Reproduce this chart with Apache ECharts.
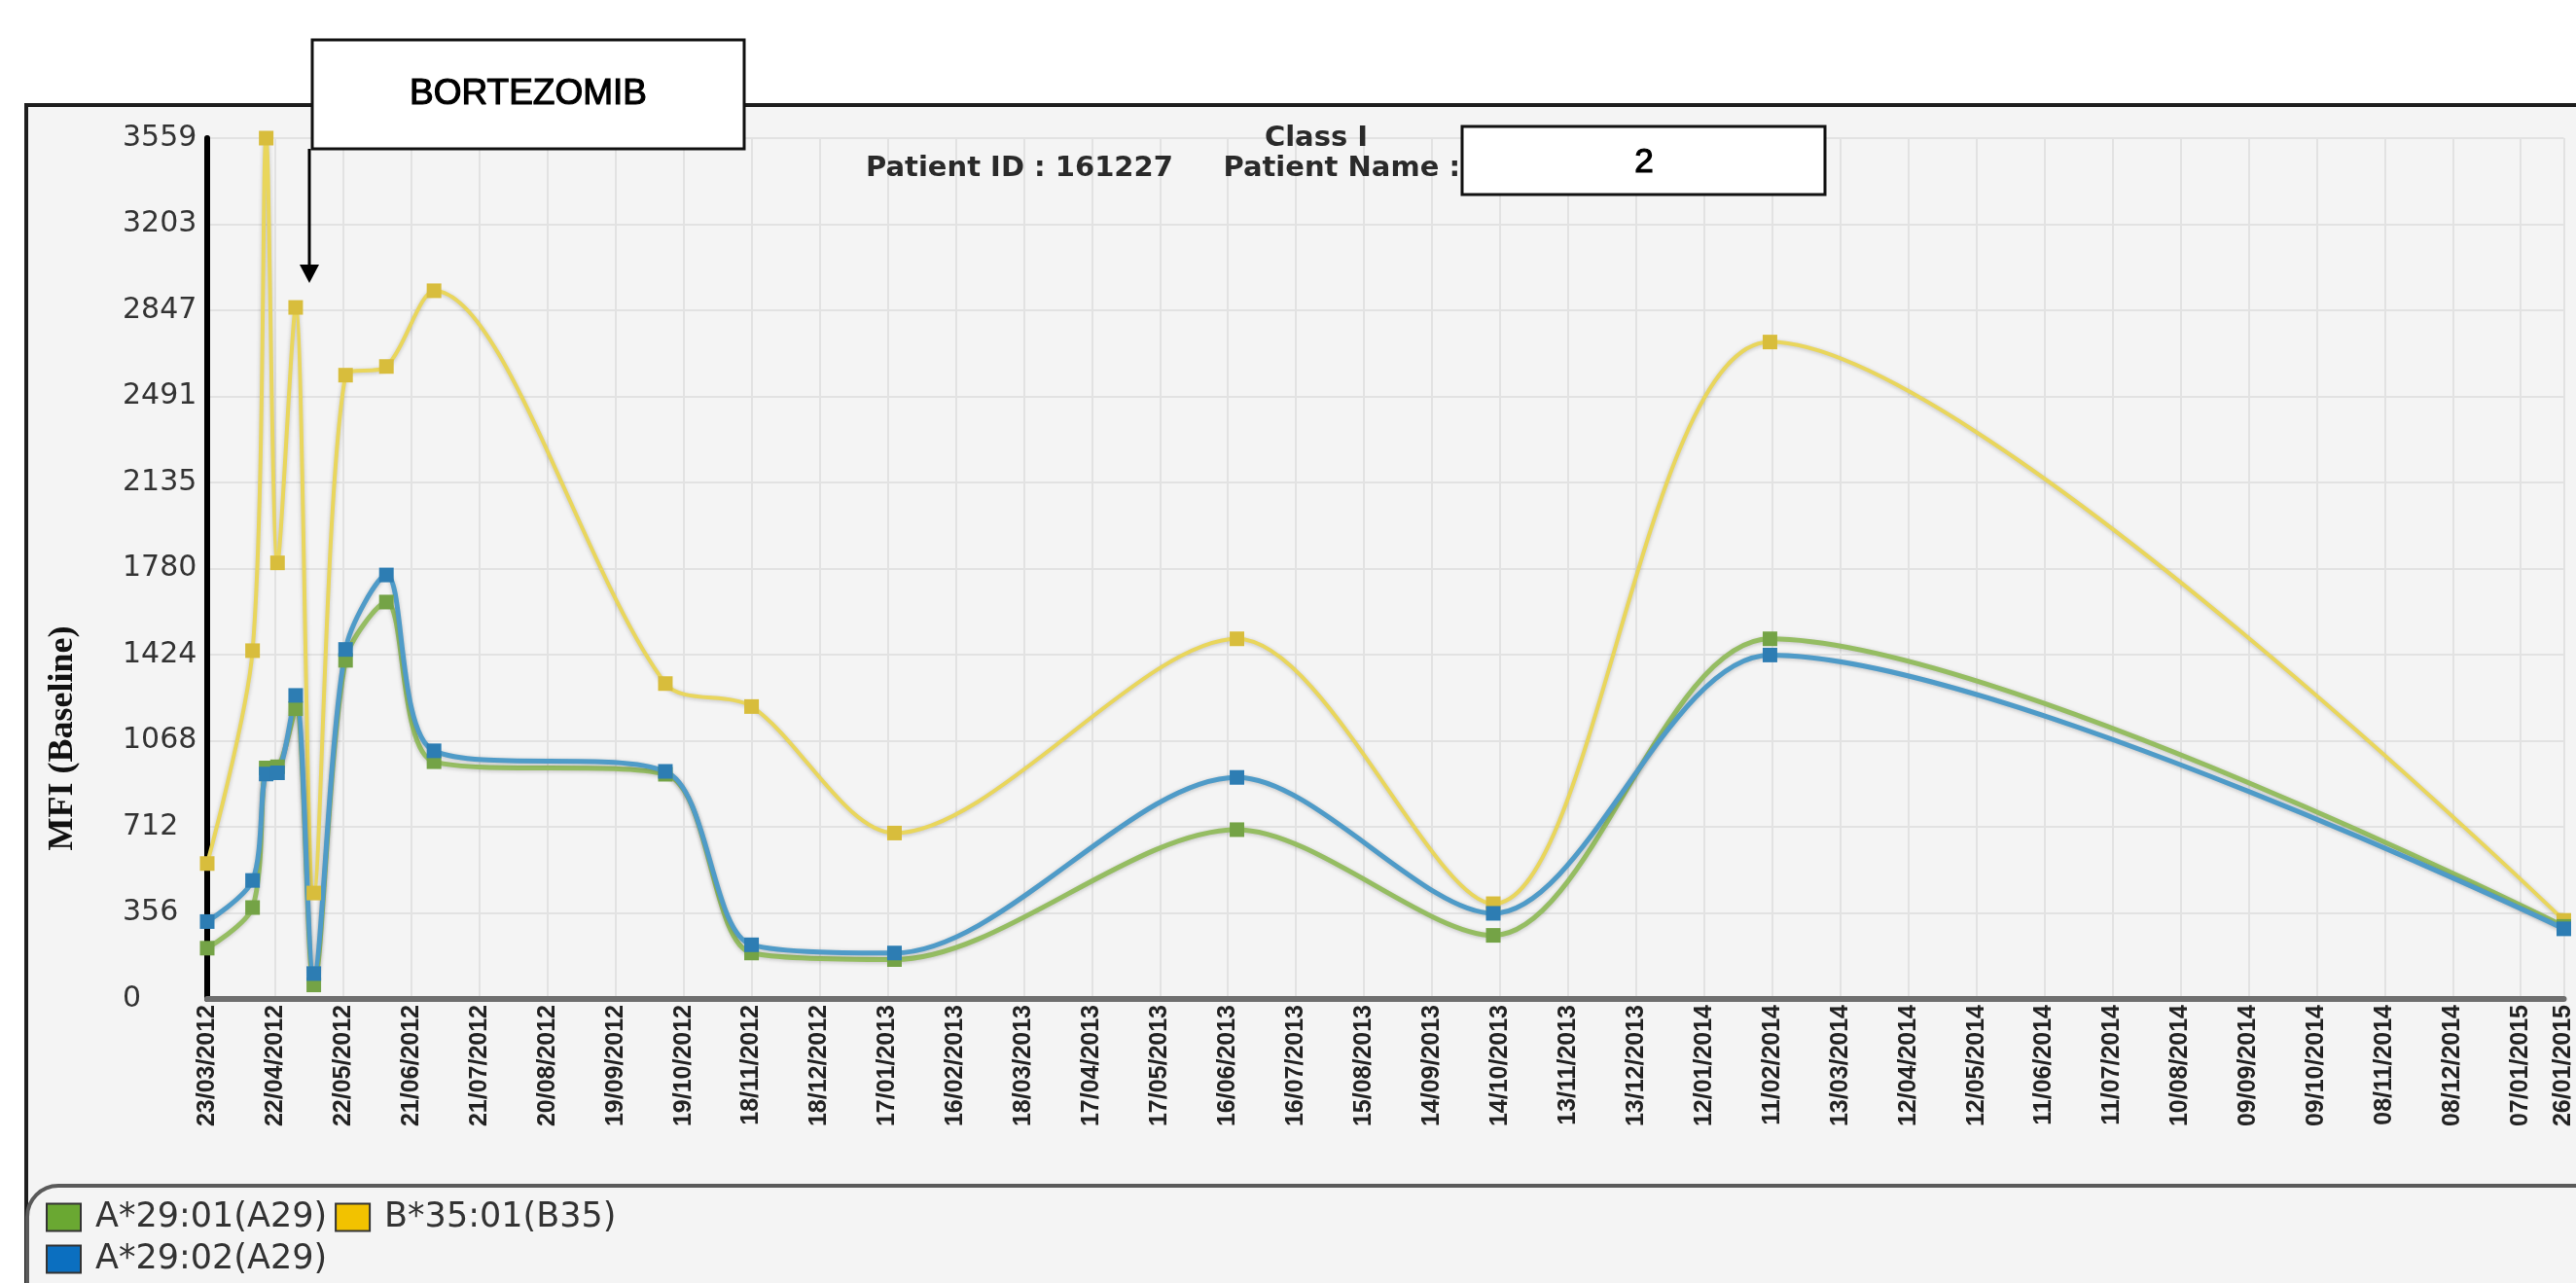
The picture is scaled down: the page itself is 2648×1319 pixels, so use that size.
<!DOCTYPE html>
<html>
<head>
<meta charset="utf-8">
<title>MFI (Baseline) – Class I</title>
<script src="https://cdn.jsdelivr.net/npm/echarts@6/dist/echarts.min.js"></script>
<style>
  html, body { margin: 0; padding: 0; background: #ffffff; }
  #chart { width: 2648px; height: 1319px; }
</style>
</head>
<body>
<div id="chart"></div>
<script>
// Sample dates (dd/mm/yyyy) shared by all three antibody series
const sampleDates = [
  '23/03/2012', '12/04/2012', '18/04/2012', '23/04/2012', '01/05/2012', '09/05/2012',
  '23/05/2012', '10/06/2012', '01/07/2012', '11/10/2012', '18/11/2012', '20/01/2013',
  '20/06/2013', '11/10/2013', '10/02/2014', '26/01/2015'
];

// MFI values per antigen
const a2901 = [210, 378, 955, 960, 1200, 58, 1400, 1641, 981, 929, 190, 163, 700, 263, 1489, 300];
const b3501 = [560, 1440, 3559, 1803, 2859, 438, 2579, 2615, 2928, 1304, 1209, 686, 1489, 394, 2716, 325];
const a2902 = [320, 490, 930, 935, 1255, 105, 1445, 1753, 1026, 941, 224, 190, 916, 354, 1422, 290];

const seriesNames = ['A*29:01(A29)', 'B*35:01(B35)', 'A*29:02(A29)'];

// Date axis labels, every 30 days from the first sample, plus the last sample date
const xTickLabels = [
  '23/03/2012', '22/04/2012', '22/05/2012', '21/06/2012', '21/07/2012', '20/08/2012',
  '19/09/2012', '19/10/2012', '18/11/2012', '18/12/2012', '17/01/2013', '16/02/2013',
  '18/03/2013', '17/04/2013', '17/05/2013', '16/06/2013', '16/07/2013', '15/08/2013',
  '14/09/2013', '14/10/2013', '13/11/2013', '13/12/2013', '12/01/2014', '11/02/2014',
  '13/03/2014', '12/04/2014', '12/05/2014', '11/06/2014', '11/07/2014', '10/08/2014',
  '09/09/2014', '09/10/2014', '08/11/2014', '08/12/2014', '07/01/2015', '26/01/2015'
];
const yTickLabels = ['0', '356', '712', '1068', '1424', '1780', '2135', '2491', '2847', '3203', '3559'];

const DAY_MS = 86400000;
const X_STEP = 30;
function parseDate(s) {
  const p = s.split('/').map(Number);
  return Date.UTC(p[2], p[1] - 1, p[0]);
}
const t0 = parseDate(xTickLabels[0]);
const dayOffset = s => Math.round((parseDate(s) - t0) / DAY_MS);
const X_MAX = dayOffset(xTickLabels[xTickLabels.length - 1]);
const Y_MAX = Number(yTickLabels[yTickLabels.length - 1]);
const Y_STEP = Y_MAX / (yTickLabels.length - 1);
const xDays = sampleDates.map(dayOffset);
const toPoints = vals => vals.map((v, i) => [xDays[i], v]);

function xLabel(v) {
  const i = v >= X_MAX ? xTickLabels.length - 1 : Math.round(v / X_STEP);
  return xTickLabels[i] || '';
}

function lineSeries(name, vals, lineColor, markColor, width) {
  return {
    name: name,
    type: 'line',
    data: toPoints(vals),
    smooth: 0.3,
    symbol: 'rect',
    symbolSize: 15,
    showSymbol: true,
    lineStyle: {
      color: lineColor, width: width,
      shadowColor: 'rgba(0,0,0,0.22)', shadowBlur: 4, shadowOffsetY: 1
    },
    itemStyle: { color: markColor },
    emphasis: { disabled: true }
  };
}

const chart = echarts.init(document.getElementById('chart'), null, { renderer: 'canvas' });

chart.setOption({
  animation: false,
  backgroundColor: '#ffffff',
  grid: { left: 213, right: 10, top: 142, bottom: 292, containLabel: false },
  xAxis: {
    type: 'value',
    min: 0,
    max: X_MAX,
    interval: X_STEP,
    axisLine: { show: true, onZero: false, lineStyle: { color: '#6e6e6e', width: 6 } },
    axisTick: { show: false },
    axisLabel: {
      rotate: 90,
      margin: 6,
      fontFamily: '"Liberation Sans", sans-serif',
      fontWeight: 'bold',
      fontSize: 25,
      color: '#222222',
      showMinLabel: true,
      showMaxLabel: true,
      formatter: xLabel
    },
    splitLine: { show: true, lineStyle: { color: '#e2e2e2', width: 2 } }
  },
  yAxis: {
    type: 'value',
    min: 0,
    max: Y_MAX,
    interval: Y_STEP,
    axisLine: { show: true, lineStyle: { color: '#000000', width: 6 } },
    axisTick: { show: false },
    axisLabel: {
      align: 'left',
      margin: 87,
      fontFamily: '"DejaVu Sans", sans-serif',
      fontSize: 30,
      color: '#333333',
      formatter: v => yTickLabels[Math.round(v / Y_STEP)]
    },
    splitLine: { show: true, lineStyle: { color: '#e2e2e2', width: 2 } }
  },
  legend: {
    left: 42,
    top: 1229,
    width: 640,
    orient: 'horizontal',
    itemWidth: 35,
    itemHeight: 28,
    itemGap: 8,
    selectedMode: false,
    textStyle: {
      fontFamily: '"DejaVu Sans", sans-serif',
      fontSize: 35,
      color: '#333333',
      padding: [0, 9, 0, 10]
    },
    data: [
      { name: seriesNames[0], icon: 'rect', itemStyle: { color: '#6aa832', borderColor: '#333', borderWidth: 2 } },
      { name: seriesNames[1], icon: 'rect', itemStyle: { color: '#f2c200', borderColor: '#333', borderWidth: 2 } },
      { name: seriesNames[2], icon: 'rect', itemStyle: { color: '#0b6fc0', borderColor: '#333', borderWidth: 2 } }
    ]
  },
  series: [
    lineSeries(seriesNames[1], b3501, '#e9d65c', '#d8bd3c', 4),
    lineSeries(seriesNames[0], a2901, '#95bd62', '#74a346', 5),
    lineSeries(seriesNames[2], a2902, '#4f9bc8', '#2d7db3', 5)
  ],
  graphic: [
    // outer panel and legend panel
    { type: 'rect', z: -10, shape: { x: 27, y: 108, width: 2700, height: 1300 },
      style: { fill: '#f4f4f4', stroke: '#1e1e1e', lineWidth: 4 } },
    { type: 'rect', z: -9, shape: { x: 28, y: 1219, width: 2700, height: 200, r: [32, 0, 0, 0] },
      style: { fill: '#f4f4f4', stroke: '#5a5a5a', lineWidth: 4 } },
    // header
    { type: 'text', z: 50, style: { text: 'Class I', x: 1353, y: 142, align: 'center', verticalAlign: 'middle',
      textAlign: 'center', textVerticalAlign: 'middle', font: 'bold 29px "DejaVu Sans"', fill: '#2a2a2a' } },
    { type: 'text', z: 50, style: { text: 'Patient ID : 161227', x: 890, y: 173, align: 'left', verticalAlign: 'middle',
      textAlign: 'left', textVerticalAlign: 'middle', font: 'bold 29px "DejaVu Sans"', fill: '#2a2a2a' } },
    { type: 'text', z: 50, style: { text: 'Patient Name :', x: 1501, y: 173, align: 'right', verticalAlign: 'middle',
      textAlign: 'right', textVerticalAlign: 'middle', font: 'bold 29px "DejaVu Sans"', fill: '#2a2a2a' } },
    { type: 'rect', z: 100, shape: { x: 1503, y: 130, width: 373, height: 70 },
      style: { fill: '#ffffff', stroke: '#111111', lineWidth: 3 } },
    { type: 'text', z: 101, style: { text: '2', x: 1690, y: 167, align: 'center', verticalAlign: 'middle',
      textAlign: 'center', textVerticalAlign: 'middle', font: '35px "Liberation Sans"', fill: '#000000',
      stroke: '#000000', lineWidth: 1.2 } },
    // y axis title
    { type: 'text', z: 50, x: 65, y: 759, rotation: Math.PI / 2,
      style: { text: 'MFI (Baseline)', x: 0, y: 0, align: 'center', verticalAlign: 'middle',
        textAlign: 'center', textVerticalAlign: 'middle', font: 'bold 36px "Liberation Serif"', fill: '#111111' } },
    // treatment annotation
    { type: 'rect', z: 100, shape: { x: 321, y: 41, width: 444, height: 112 },
      style: { fill: '#ffffff', stroke: '#111111', lineWidth: 3 } },
    { type: 'text', z: 101, style: { text: 'BORTEZOMIB', x: 543, y: 97, align: 'center', verticalAlign: 'middle',
      textAlign: 'center', textVerticalAlign: 'middle', font: '37px "Liberation Sans"', fill: '#000000',
      stroke: '#000000', lineWidth: 1.2 } },
    { type: 'line', z: 100, shape: { x1: 318, y1: 153, x2: 318, y2: 276 },
      style: { stroke: '#000000', lineWidth: 3 } },
    { type: 'polygon', z: 100, shape: { points: [[308, 272], [328, 272], [318, 291]] },
      style: { fill: '#000000' } }
  ]
});
</script>
</body>
</html>
